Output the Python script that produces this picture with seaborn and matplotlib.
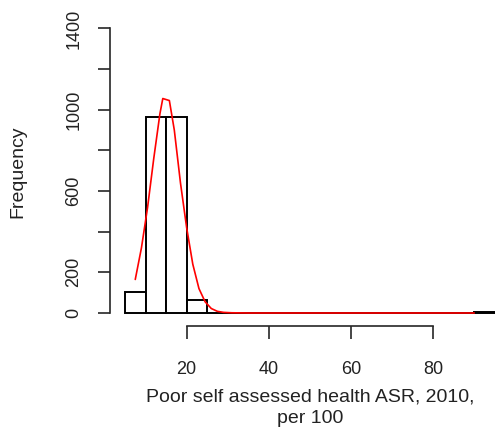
import numpy as np
import pandas as pd
import matplotlib
matplotlib.use("Agg")
import matplotlib.pyplot as plt
import seaborn as sns

# Histogram data (bins of width 5)
bin_edges = [5, 10, 15, 20, 25, 30, 35, 40, 45, 50, 55, 60, 65, 70, 75, 80, 85, 90, 95]
bin_counts = [103, 965, 965, 62, 0, 0, 0, 0, 0, 0, 0, 0, 0, 0, 0, 0, 0, 4]

# Red fitted curve
curve_x = [7.5, 9, 10.5, 12, 13.5, 14.2, 15.8, 17, 18.5, 20, 21.5, 23, 24.5, 26, 27.5, 29, 31, 35, 50, 70, 90]
curve_y = [165, 320, 520, 760, 980, 1055, 1045, 900, 640, 420, 240, 120, 55, 22, 8, 3, 1, 0, 0, 0, 0]

y_ticks = [0, 200, 400, 600, 800, 1000, 1200, 1400]
y_tick_labels = ["0", "200", "", "600", "", "1000", "", "1400"]
x_ticks = [20, 40, 60, 80]

sns.set_style("ticks")
plt.rcParams['font.family'] = ['Liberation Sans', 'DejaVu Sans']

W, H = 495, 438
fig = plt.figure(figsize=(W / 100, H / 100), dpi=100)
ax_left, ax_right, ax_top, ax_bottom = 110.2, 509.6, 17, 326
ax = fig.add_axes([ax_left / W, (H - ax_bottom) / H,
                   (ax_right - ax_left) / W, (ax_bottom - ax_top) / H])

mids = [(bin_edges[i] + bin_edges[i + 1]) / 2 for i in range(len(bin_counts))]
df = pd.DataFrame({"x": mids, "w": bin_counts})
sns.histplot(data=df, x="x", weights="w", bins=bin_edges, ax=ax,
             color="white", edgecolor="black", linewidth=1.4, alpha=1)

sns.lineplot(x=curve_x, y=curve_y, color="red", linewidth=1.2, ax=ax)

ax.set_xlim(1.4, 98.6)
ax.set_ylim(-64, 1456)
for s in ["top", "right"]:
    ax.spines[s].set_visible(False)
ax.spines["left"].set_bounds(0, 1400)
ax.spines["bottom"].set_bounds(20, 80)
ax.spines["left"].set_linewidth(1.2)
ax.spines["bottom"].set_linewidth(1.2)

fs_tick = 13
fs_lab = 14
ax.set_yticks(y_ticks)
ax.set_yticklabels(y_tick_labels, rotation=90, va="center", fontsize=fs_tick, color="#222222")
ax.set_xticks(x_ticks)
ax.set_xticklabels([str(t) for t in x_ticks], fontsize=fs_tick, color="#222222")
ax.tick_params(axis="both", length=9, width=1.2)
ax.tick_params(axis="x", pad=16)
ax.tick_params(axis="y", pad=11)

ax_h = ax_bottom - ax_top
ax_w = ax_right - ax_left
ax.set_ylabel("Frequency", fontsize=fs_lab, color="#222222", va="center")
ax.yaxis.set_label_coords((18 - ax_left) / ax_w, 0.5)
ax.set_xlabel("Poor self assessed health ASR, 2010,\nper 100", fontsize=fs_lab,
              color="#222222", va="top", linespacing=1.3)
ax.xaxis.set_label_coords((310 - ax_left) / ax_w, (ax_bottom - 389) / ax_h)

fig.savefig("out.png", dpi=100)
